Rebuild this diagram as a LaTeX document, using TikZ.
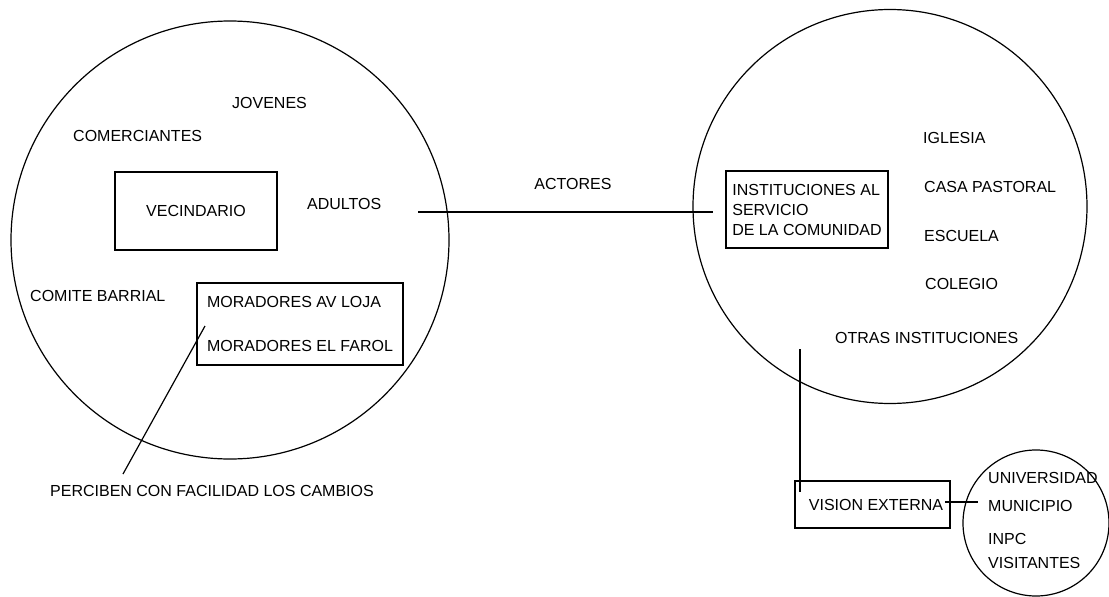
\documentclass[tikz,border=0pt]{standalone}
\usepackage{fontspec}
\setmainfont{Liberation Sans}
\usetikzlibrary{positioning}
\tikzset{
  ring/.style={circle,draw=black,line width=1.2pt,inner sep=0pt},
  caja/.style={rectangle,draw=black,line width=1.2pt,inner sep=0pt,align=left},
  lbl/.style={anchor=west,inner sep=0pt},
  link/.style={line width=1.2pt,black},
}
\begin{document}
\begin{tikzpicture}[x=1pt,y=-1pt,font=\fontsize{16}{20}\selectfont]
  \useasboundingbox (0,0) rectangle (1109,597);
  % the three circles
  \node[ring,minimum size=438pt] (barrio) at (230,240) {};
  \node[ring,minimum size=394pt] (inst)   at (890,206.5) {};
  \node[ring,minimum size=146pt] (ext)    at (1036,523) {};
  % left circle
  \node[lbl] (jov) at (232,103) {JOVENES};
  \node[lbl] (com) at (73,136) {COMERCIANTES};
  \node[caja,align=center,minimum width=162pt,minimum height=78pt] (vec) at (196,211) {VECINDARIO};
  \node[lbl] (adu) at (307,204) {ADULTOS};
  \node[lbl] (cbar) at (30,296) {COMITE BARRIAL};
  \node[caja,minimum width=206pt,minimum height=82pt] (mor) at (300,324)
    {MORADORES AV LOJA\\[24pt]MORADORES EL FAROL};
  \node[lbl] (perc) at (50,491) {PERCIBEN CON FACILIDAD LOS CAMBIOS};
  % right circle
  \node[caja,minimum width=162pt,minimum height=77pt] (serv) at (807,209.5)
    {INSTITUCIONES AL\\SERVICIO\\DE LA COMUNIDAD};
  \node[lbl] (igl) at (923,138) {IGLESIA};
  \node[lbl] (casa) at (924,187) {CASA PASTORAL};
  \node[lbl] (esc) at (924,236) {ESCUELA};
  \node[lbl] (col) at (925,284) {COLEGIO};
  \node[lbl] (otras) at (835,338) {OTRAS INSTITUCIONES};
  \node[inner sep=0pt] (act) at (573,184) {ACTORES};
  % outside view
  \node[caja,align=center,minimum width=155pt,minimum height=47pt] (vis) at (872.5,504.5) {\hspace*{7pt}VISION EXTERNA};
  \node[lbl] (univ) at (988,478) {UNIVERSIDAD};
  \node[lbl] (mun) at (988,506) {MUNICIPIO};
  \node[lbl] (inpc) at (988,539) {INPC};
  \node[lbl] (visi) at (988,563) {VISITANTES};
  % connectors
  \coordinate (actL) at (418,212);
  \coordinate (morA) at (205,326);
  \coordinate (percA) at (123,474);
  \coordinate (visTop) at (800,349);
  \coordinate (visBot) at (800,492);
  \coordinate (visR) at (945,502);
  \coordinate (munL) at (978,502);
  \draw[link,shorten >=12pt] (actL) -- (actL -| serv.west);
  \draw[link] (morA) -- (percA);
  \draw[link] (visTop) -- (visBot);
  \draw[link] (visR) -- (munL);
\end{tikzpicture}
\end{document}
